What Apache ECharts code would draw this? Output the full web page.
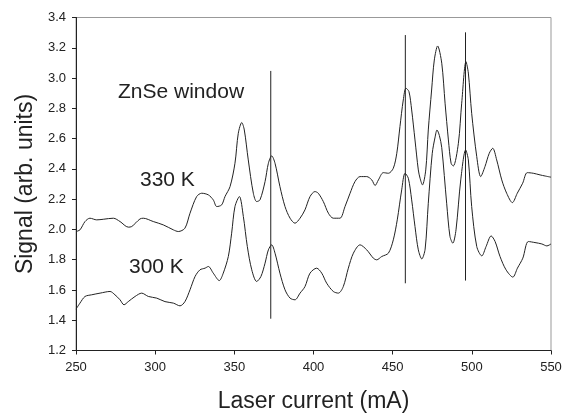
<!DOCTYPE html>
<html>
<head>
<meta charset="utf-8">
<script src="https://cdn.jsdelivr.net/npm/echarts@6/dist/echarts.min.js"></script>
<style>
html,body{margin:0;padding:0;background:#fff}
#Chart{width:563px;height:414px}
</style>
</head>
<body>
<div id="Chart"></div>
<script>
// 330 K trace (upper)
var current330=[250,252.5,255.7,258.8,263.1,267.2,273.6,277.8,283.0,285.2,290.4,292.5,298.8,305.1,311.5,314.6,318.8,322.0,326.2,329.4,
    333.6,336.7,338.9,342.0,344.1,347.3,350.4,352.5,354.7,356.3,358.8,362.0,364.1,366.2,369.4,371.5,373.6,375.7,378.8,382.0,
    385.2,388.3,391.5,394.6,397.8,400.9,403.0,406.2,409.4,412.5,416.7,419.9,423.1,426.2,429.4,433.6,436.8,438.9,441.0,444.1,
    447.3,450.4,452.6,454.6,456.7,458.4,460.3,462.0,464.1,466.2,467.3,468.8,470.9,472.5,474.6,476.3,478.4,481.0,483.1,485.2,
    486.9,488.3,491.5,493.6,496.3,497.8,499.9,503.1,505.6,508.3,511.0,513.2,515.7,518.9,522.0,525.6,528.7,532.1,535.0,538.8,
    543.1,546.2,550]
var signal330=[1.986,1.997,2.052,2.074,2.063,2.067,2.074,2.052,2.015,2.019,2.069,2.074,2.052,2.030,1.997,1.986,2.008,2.107,2.217,2.239,
    2.228,2.195,2.151,2.162,2.217,2.283,2.437,2.635,2.706,2.657,2.459,2.239,2.184,2.195,2.316,2.437,2.486,2.437,2.283,2.151,
    2.074,2.041,2.074,2.129,2.217,2.250,2.239,2.184,2.107,2.074,2.074,2.151,2.239,2.316,2.349,2.349,2.327,2.290,2.327,2.375,
    2.371,2.404,2.503,2.679,2.855,2.933,2.910,2.789,2.591,2.393,2.338,2.294,2.393,2.657,2.921,3.119,3.212,3.098,2.834,2.591,
    2.437,2.419,2.569,2.834,3.108,3.033,2.767,2.481,2.349,2.415,2.503,2.536,2.459,2.327,2.239,2.177,2.239,2.305,2.375,2.371,
    2.360,2.353,2.345]

// 300 K trace (lower)
var current300=[250,252.5,255.7,259.9,265.2,271.5,274.6,277.8,280.3,283.0,287.3,291.5,295.7,301.0,306.2,311.5,315.7,318.8,322.0,325.2,
    328.3,331.5,333.6,336.7,340.5,343.0,346.2,348.3,350.4,353.2,355.7,358.2,361.0,364.1,366.8,369.4,371.5,373.6,375.7,378.8,
    382.0,385.2,388.3,391.5,394.6,397.8,402.0,405.2,408.3,412.5,415.7,418.8,422.0,425.2,429.4,433.6,437.8,439.9,443.1,447.3,
    450.4,452.9,455.7,457.8,459.9,462.0,464.1,466.2,468.4,470.5,472.5,475.0,476.8,478.0,479.5,481.0,484.1,486.2,488.0,490.0,
    493.0,496.1,497.8,499.9,503.1,506.3,509.0,512.2,514.7,517.8,521.6,525.9,528.8,532.2,535.7,539.9,544.2,547.4,550]
var signal300=[1.473,1.513,1.557,1.568,1.579,1.590,1.568,1.535,1.502,1.523,1.557,1.579,1.557,1.546,1.523,1.513,1.495,1.523,1.601,1.689,
    1.733,1.744,1.755,1.711,1.662,1.711,1.821,1.975,2.151,2.217,2.085,1.887,1.733,1.656,1.689,1.777,1.865,1.898,1.843,1.711,
    1.601,1.546,1.535,1.579,1.622,1.711,1.744,1.711,1.645,1.590,1.579,1.622,1.744,1.843,1.898,1.865,1.810,1.799,1.821,1.843,
    1.931,2.063,2.261,2.371,2.338,2.195,2.019,1.865,1.805,1.870,2.173,2.503,2.610,2.657,2.620,2.540,2.173,1.953,1.909,1.997,
    2.327,2.525,2.459,2.151,1.887,1.825,1.887,1.957,1.920,1.821,1.733,1.685,1.744,1.810,1.920,1.913,1.904,1.891,1.904]

// vertical marker lines
var markCurrent=[373,458,496]
var markLow=[1.41,1.644,1.662]
var markHigh=[3.047,3.284,3.302]

var font="'Liberation Sans', Arial, sans-serif"
var ink='#222'

function pairs(xs,ys){
    var out=[]
    for(var i=0;i<xs.length;i++) out.push([xs[i],ys[i]])
    return out
}

function $each(arr,fn){
    for(var i=0;i<arr.length;i++) fn(i,arr[i])
}

function drawChar(){
    var myChart=echarts.init(document.getElementById('Chart'),null,{renderer:'canvas'})
    var series=[
        {type:'line',data:pairs(current330,signal330),symbol:'none',silent:true,smooth:0.3,
            lineStyle:{color:ink,width:1}},
        {type:'line',data:pairs(current300,signal300),symbol:'none',silent:true,smooth:0.3,
            lineStyle:{color:ink,width:1}}
    ]
    $each(markCurrent,function(i,x){
        series.push({type:'line',data:[[x,markLow[i]],[x,markHigh[i]]],symbol:'none',silent:true,
            lineStyle:{color:ink,width:1}})
    })
    var option={
        animation:false,
        textStyle:{fontFamily:font},
        grid:{left:76,top:17.5,width:475,height:333,outerBoundsMode:'none',containLabel:false,
            show:true,borderColor:'#999',borderWidth:1},
        xAxis:{
            type:'value',min:250,max:550,interval:50,
            name:'Laser current (mA)',nameLocation:'middle',nameGap:40,
            nameTextStyle:{fontSize:23,color:ink,fontFamily:font},
            axisLine:{show:true,lineStyle:{color:ink,width:1}},
            axisTick:{show:true,length:4,lineStyle:{color:ink}},
            axisLabel:{fontSize:13,color:ink,margin:10,fontFamily:font},
            splitLine:{show:false}
        },
        yAxis:{
            type:'value',min:1.2,max:3.4,interval:0.2,
            name:'Signal (arb. units)',nameLocation:'middle',nameGap:38,nameRotate:90,
            nameTextStyle:{fontSize:23,color:ink,fontFamily:font},
            axisLine:{show:true,lineStyle:{color:ink,width:1}},
            axisTick:{show:true,length:4,lineStyle:{color:ink}},
            axisLabel:{fontSize:13,color:ink,margin:10,fontFamily:font,
                formatter:function(v){return v.toFixed(1)}},
            splitLine:{show:false}
        },
        graphic:[
            {type:'text',left:118,top:82,style:{text:'ZnSe window',fontSize:21,fill:ink,fontFamily:font}},
            {type:'text',left:140,top:170,style:{text:'330 K',fontSize:21,fill:ink,fontFamily:font}},
            {type:'text',left:129,top:257,style:{text:'300 K',fontSize:21,fill:ink,fontFamily:font}}
        ],
        series:series
    }
    myChart.setOption(option)
}

drawChar()
</script>
</body>
</html>
